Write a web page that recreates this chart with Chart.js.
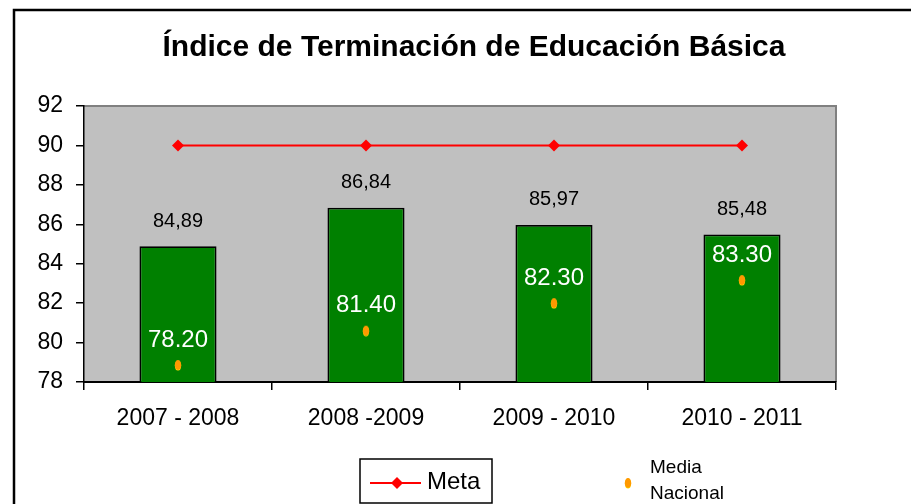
<!DOCTYPE html>
<html>
<head>
<meta charset="utf-8">
<script src="https://cdn.jsdelivr.net/npm/chart.js@4/dist/chart.umd.min.js"></script>
<style>
  html, body { margin: 0; padding: 0; background: #fff; }
  #wrap { width: 911px; height: 504px; position: relative; }
</style>
</head>
<body>
<div id="wrap"><canvas id="chart" width="911" height="504"></canvas></div>
<script>
(function () {
  "use strict";

  // data
  const periods = ["2007 - 2008", "2008 -2009", "2009 - 2010", "2010 - 2011"];
  const indice = [84.89, 86.84, 85.97, 85.48];
  const meta = [90, 90, 90, 90];
  const mediaNacional = [78.86, 80.6, 82.0, 83.17];
  const mediaLabels = ["78.20", "81.40", "82.30", "83.30"];
  const yTicks = [78, 80, 82, 84, 86, 88, 90, 92];

  const FONT = "'Liberation Sans', Arial, sans-serif";

  // little ellipse marker for Media Nacional
  function ellipseMarker() {
    const c = document.createElement("canvas");
    c.width = 8; c.height = 12;
    const g = c.getContext("2d");
    g.fillStyle = "#FFE000";
    g.beginPath(); g.ellipse(4, 6.6, 3.2, 5, 0, 0, Math.PI * 2); g.fill();
    g.fillStyle = "#FF9900";
    g.beginPath(); g.ellipse(4, 6, 3.2, 5, 0, 0, Math.PI * 2); g.fill();
    return c;
  }
  const dot = ellipseMarker();

  const frame = {
    id: "frame",
    beforeDraw(chart) {
      const { ctx, chartArea: a } = chart;
      ctx.save();
      ctx.fillStyle = "#C0C0C0";
      ctx.fillRect(a.left, a.top, a.right - a.left, a.bottom - a.top);
      ctx.strokeStyle = "#808080";
      ctx.lineWidth = 2;
      ctx.beginPath();
      ctx.moveTo(a.left, a.top); ctx.lineTo(a.right, a.top); ctx.lineTo(a.right, a.bottom);
      ctx.stroke();
      ctx.restore();
    },
    afterDraw(chart) {
      const ctx = chart.ctx;
      ctx.save();
      // outer border
      ctx.strokeStyle = "#000";
      ctx.lineWidth = 2.5;
      ctx.beginPath();
      ctx.moveTo(14, 504); ctx.lineTo(14, 10); ctx.lineTo(911, 10);
      ctx.stroke();

      // title
      ctx.fillStyle = "#000";
      ctx.font = "bold 30px " + FONT;
      ctx.textAlign = "center";
      ctx.textBaseline = "middle";
      ctx.fillText("Índice de Terminación de Educación Básica", 474, 48);

      // legend: Meta
      ctx.lineWidth = 1.5;
      ctx.strokeRect(360, 459, 132, 44);
      ctx.strokeStyle = "#FF0000";
      ctx.lineWidth = 2;
      ctx.beginPath(); ctx.moveTo(370, 483); ctx.lineTo(421, 483); ctx.stroke();
      ctx.fillStyle = "#FF0000";
      ctx.beginPath();
      ctx.moveTo(397, 477); ctx.lineTo(403, 483); ctx.lineTo(397, 489); ctx.lineTo(391, 483);
      ctx.closePath(); ctx.fill();
      ctx.fillStyle = "#000";
      ctx.font = "24px " + FONT;
      ctx.textAlign = "left";
      ctx.fillText("Meta", 427, 482);

      // legend: Media Nacional
      ctx.drawImage(dot, 624, 477);
      ctx.font = "19px " + FONT;
      ctx.fillText("Media", 650, 468);
      ctx.fillText("Nacional", 650, 494);
      ctx.restore();
    },
    afterDatasetsDraw(chart) {
      const ctx = chart.ctx;
      ctx.save();
      ctx.textAlign = "center";
      ctx.textBaseline = "middle";
      const bars = chart.getDatasetMeta(0).data;
      ctx.fillStyle = "#000";
      ctx.font = "20px " + FONT;
      bars.forEach((b, i) => {
        ctx.fillText(indice[i].toFixed(2).replace(".", ","), b.x, b.y - 25);
      });
      const pts = chart.getDatasetMeta(2).data;
      ctx.fillStyle = "#fff";
      ctx.font = "24px " + FONT;
      pts.forEach((p, i) => {
        ctx.fillText(mediaLabels[i], p.x, p.y - 25);
      });
      ctx.restore();
    }
  };

  new Chart(document.getElementById("chart"), {
    type: "bar",
    data: {
      labels: periods,
      datasets: [
        {
          label: "Índice",
          data: indice,
          backgroundColor: "#008000",
          borderColor: "#000",
          borderWidth: 1.8,
          borderSkipped: "bottom",
          barPercentage: 0.41,
          categoryPercentage: 1,
          order: 3
        },
        {
          type: "line",
          label: "Meta",
          data: meta,
          borderColor: "#FF0000",
          backgroundColor: "#FF0000",
          borderWidth: 2,
          pointStyle: "rectRot",
          pointRadius: 6,
          pointBorderWidth: 0,
          fill: false,
          order: 2
        },
        {
          type: "line",
          label: "Media Nacional",
          data: mediaNacional,
          showLine: false,
          pointStyle: dot,
          order: 1
        }
      ]
    },
    options: {
      responsive: false,
      animation: false,
      layout: { padding: { top: 106, right: 75, left: 0, bottom: 0 } },
      plugins: {
        legend: { display: false },
        tooltip: { enabled: false }
      },
      scales: {
        y: {
          min: 78,
          max: 92,
          afterFit(s) { s.width = 84; },
          afterBuildTicks(s) { s.ticks = yTicks.map(v => ({ value: v })); },
          grid: { drawOnChartArea: false, drawTicks: true, tickLength: 8, color: "#000", lineWidth: 1.5 },
          border: { display: true, color: "#000", width: 1.5 },
          ticks: { color: "#000", padding: 13, font: { family: FONT, size: 23 } }
        },
        x: {
          afterFit(s) { s.height = 122; },
          grid: { offset: true, drawOnChartArea: false, drawTicks: true, tickLength: 8, color: "#000", lineWidth: 1.5 },
          border: { display: true, color: "#000", width: 2 },
          ticks: { color: "#000", padding: 15, font: { family: FONT, size: 23 } }
        }
      }
    },
    plugins: [frame]
  });
})();
</script>
</body>
</html>
